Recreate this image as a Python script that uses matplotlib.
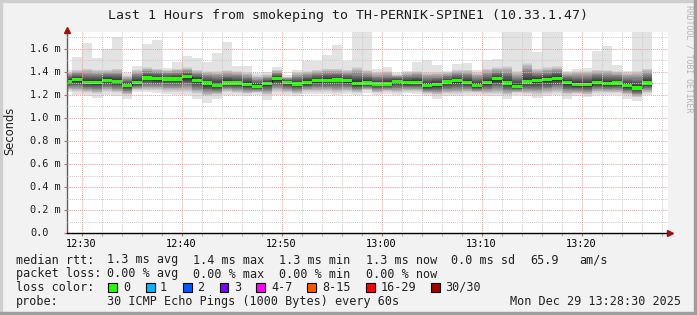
import numpy as np
import matplotlib
matplotlib.use('Agg')
import matplotlib.pyplot as plt
from matplotlib.patches import Rectangle
from matplotlib.lines import Line2D
from matplotlib.transforms import blended_transform_factory

W, H = 697, 315

# end of each 1 minute sample, in minutes after 12:30
fin = list(range(-1, 58))

# rtt in ms, per sample : max ping, 2nd highest, median, 2nd lowest, min ping
rtt_max = [1.42, 1.53, 1.65, 1.52, 1.60, 1.70, 1.39, 1.455, 1.64, 1.68,
           1.435, 1.487, 1.536, 1.522, 1.487, 1.565, 1.66, 1.449, 1.449, 1.391,
           1.40, 1.441, 1.377, 1.42, 1.50, 1.50, 1.545, 1.632, 1.50, 1.80,
           1.80, 1.429, 1.441, 1.391, 1.411, 1.487, 1.50, 1.458, 1.411, 1.47,
           1.478, 1.415, 1.50, 1.513, 1.80, 1.80, 1.80, 1.574, 1.80, 1.80,
           1.41, 1.426, 1.435, 1.585, 1.629, 1.464, 1.411, 1.80, 1.80]
rtt_hi = [1.40, 1.42, 1.43, 1.42, 1.42, 1.43, 1.37, 1.42, 1.44, 1.43,
          1.42, 1.43, 1.44, 1.42, 1.41, 1.41, 1.42, 1.41, 1.40, 1.37,
          1.38, 1.42, 1.36, 1.40, 1.41, 1.42, 1.43, 1.43, 1.42, 1.44,
          1.42, 1.40, 1.41, 1.38, 1.40, 1.41, 1.40, 1.40, 1.40, 1.42,
          1.42, 1.40, 1.43, 1.44, 1.45, 1.41, 1.48, 1.43, 1.44, 1.45,
          1.40, 1.41, 1.41, 1.42, 1.42, 1.41, 1.40, 1.41, 1.43]
rtt_med = [1.32, 1.333, 1.31, 1.31, 1.328, 1.316, 1.284, 1.31, 1.348, 1.342,
           1.339, 1.339, 1.357, 1.328, 1.304, 1.284, 1.304, 1.304, 1.29, 1.275,
           1.302, 1.342, 1.31, 1.296, 1.31, 1.325, 1.328, 1.33, 1.325, 1.30,
           1.304, 1.296, 1.296, 1.319, 1.31, 1.31, 1.281, 1.29, 1.313, 1.325,
           1.31, 1.281, 1.31, 1.342, 1.304, 1.275, 1.313, 1.325, 1.333, 1.342,
           1.31, 1.29, 1.29, 1.31, 1.30, 1.304, 1.281, 1.261, 1.304]
rtt_lo = [1.24, 1.23, 1.22, 1.21, 1.23, 1.22, 1.20, 1.24, 1.24, 1.24,
          1.23, 1.23, 1.23, 1.21, 1.19, 1.20, 1.23, 1.22, 1.21, 1.22,
          1.20, 1.23, 1.22, 1.21, 1.23, 1.23, 1.23, 1.22, 1.23, 1.22,
          1.24, 1.22, 1.23, 1.22, 1.23, 1.23, 1.21, 1.20, 1.21, 1.21,
          1.22, 1.22, 1.21, 1.21, 1.20, 1.22, 1.21, 1.20, 1.21, 1.22,
          1.20, 1.21, 1.20, 1.22, 1.22, 1.22, 1.20, 1.18, 1.22]
rtt_min = [1.23, 1.20, 1.194, 1.174, 1.20, 1.188, 1.165, 1.23, 1.23, 1.22,
           1.211, 1.20, 1.20, 1.168, 1.13, 1.168, 1.20, 1.20, 1.188, 1.20,
           1.16, 1.20, 1.20, 1.19, 1.205, 1.205, 1.205, 1.20, 1.21, 1.20,
           1.22, 1.20, 1.205, 1.20, 1.215, 1.21, 1.188, 1.168, 1.188, 1.188,
           1.20, 1.20, 1.188, 1.188, 1.168, 1.20, 1.188, 1.175, 1.188, 1.20,
           1.168, 1.188, 1.18, 1.20, 1.20, 1.20, 1.168, 1.15, 1.20]

yticks = [0.0, 0.2, 0.4, 0.6, 0.8, 1.0, 1.2, 1.4, 1.6]
ylabels = ['0.0', '0.2 m', '0.4 m', '0.6 m', '0.8 m', '1.0 m', '1.2 m', '1.4 m', '1.6 m']
xticks = [0, 10, 20, 30, 40, 50]
xlabels = ['12:30', '12:40', '12:50', '13:00', '13:10', '13:20']

title = 'Last 1 Hours from smokeping to TH-PERNIK-SPINE1 (10.33.1.47)'
rtt_stats = ['1.3 ms avg', '1.4 ms max', '1.3 ms min', '1.3 ms now', '0.0 ms sd', '65.9', 'am/s']
loss_stats = ['0.00 % avg', '0.00 % max', '0.00 % min', '0.00 % now']
loss_names = ['0', '1', '2', '3', '4-7', '8-15', '16-29', '30/30']
loss_colors = ['#26ff00', '#00b8ff', '#0059ff', '#7e00ff', '#ff00ff', '#ff5500', '#ff0000', '#a10000']
probe = '30 ICMP Echo Pings (1000 Bytes) every 60s'
stamp = 'Mon Dec 29 13:28:30 2025'

MONO = 'DejaVu Sans Mono'


def fx(px):
    return px / W


def fy(py):
    return 1 - py / H


fig = plt.figure(figsize=(W / 100, H / 100), dpi=100, facecolor='#f2f2f2')

# 3d frame like rrdtool
fig.patches.append(Rectangle((0, 0), fx(2), 1, transform=fig.transFigure, color='#cfcfcf', zorder=0))
fig.patches.append(Rectangle((0, fy(2)), 1, 2 / H, transform=fig.transFigure, color='#cfcfcf', zorder=0))
fig.patches.append(Rectangle((fx(694), 0), fx(3), 1, transform=fig.transFigure, color='#9e9e9e', zorder=0))
fig.patches.append(Rectangle((0, 0), 1, 3 / H, transform=fig.transFigure, color='#9e9e9e', zorder=0))

x0, x1 = -1.5, 58.6
y0, y1 = 0.0, 1.75
left_px, bot_px = 66.5, 233
ax = fig.add_axes([fx(left_px), fy(bot_px), (x1 - x0) * 10 / W, y1 * 115 / H])
ax.set_facecolor('white')
ax.set_xlim(x0, x1)
ax.set_ylim(y0, y1)

ends = np.array(fin, dtype=float)
mx = np.array(rtt_max)
hi = np.array(rtt_hi)
me = np.array(rtt_med)
lo = np.array(rtt_lo)
mn = np.array(rtt_min)

# smoke, 15 layers from outer (light) to inner (dark)
for i in range(1, 16):
    g = int(190 / 15 * (15 - i)) + 50
    col = '#%02x%02x%02x' % (g, g, g)
    if i == 1:
        up, dn = mx, mn
    else:
        f = ((16 - i) / 14) ** 0.85
        up = me + (hi - me) * f
        dn = me - (me - lo) * f
    ax.bar(ends - 0.5, up - dn, bottom=dn, width=1.0, color=col, linewidth=0, zorder=1)

# median line + loss coloured band
edges = np.append(ends - 1, ends[-1])
ax.stairs(me, edges, baseline=None, color='#202020', linewidth=1.0, zorder=1.5)
ax.bar(ends - 0.5, 0.027, bottom=me - 0.0135, width=1.0, color=loss_colors[0], linewidth=0, zorder=1.6)

# grid on top, dotted
dots = (0, (1, 1))
for v in np.arange(0.1, 1.75, 0.2):
    ax.axhline(v, color='#cccccc', lw=0.75, ls=dots, zorder=3)
for v in yticks[1:]:
    ax.axhline(v, color='#e6a4a4', lw=0.75, ls=dots, zorder=3)
for v in range(2, 59, 2):
    if v % 10:
        ax.axvline(v, color='#cccccc', lw=0.75, ls=dots, zorder=3)
for v in xticks:
    ax.axvline(v, color='#e6a4a4', lw=0.75, ls=dots, zorder=3)

for s in ['top', 'right']:
    ax.spines[s].set_visible(False)
ax.spines['left'].set_color('#606060')
ax.spines['bottom'].set_color('black')
ax.spines['left'].set_linewidth(1.0)
ax.spines['bottom'].set_linewidth(1.0)

ax.set_xticks(xticks)
ax.set_xticklabels(xlabels, fontfamily=MONO, fontsize=7.4)
ax.set_xticks([v for v in range(2, 59, 2) if v % 10], minor=True)
ax.tick_params(axis='x', which='both', length=2, width=0.8, color='#b07070', pad=2.2)
ax.tick_params(axis='x', which='minor', color='#b0b0b0')
ax.set_yticks(yticks)
ax.tick_params(axis='y', which='both', length=2, width=0.8, color='#b07070', labelleft=False)

tr = blended_transform_factory(fig.transFigure, ax.transData)
for v, lab in zip(yticks, ylabels):
    ax.text(fx(30), v, lab, transform=tr, ha='left', va='center',
            fontfamily=MONO, fontsize=7.4, color='#202020')

# axis arrows
fig.add_artist(Line2D([fx(left_px)] * 2, [fy(bot_px - y1 * 115), fy(29)], color='#606060', lw=1.0))
fig.add_artist(Line2D([fx(left_px)], [fy(29.5)], marker='^', markersize=4.5, color='#a01010', mec='#a01010'))
fig.add_artist(Line2D([fx(left_px + (x1 - x0) * 10), fx(669)], [fy(bot_px)] * 2, color='black', lw=1.0))
fig.add_artist(Line2D([fx(670)], [fy(bot_px)], marker='>', markersize=4.5, color='#a01010', mec='#a01010'))

fig.text(fx(348.5), fy(18.5), title, ha='center', va='baseline', fontfamily=MONO, fontsize=9.5, color='#202020')
fig.text(fx(10), fy(131), 'Seconds', rotation=90, ha='center', va='center', fontfamily='DejaVu Sans',
         fontsize=8.3, color='#202020')
fig.text(fx(688.5), fy(5), 'RRDTOOL / TOBI OETIKER', rotation=-90, ha='center', va='top',
         fontfamily=MONO, fontsize=5.9, color='#b4b4b4')

FS = 8.5
TC = '#202020'
# legend, line by line
fig.text(fx(16), fy(263.5), 'median rtt:', fontfamily=MONO, fontsize=FS, color=TC, va='baseline')
for s, px in zip(rtt_stats, [107, 193.5, 279, 366, 451, 530, 579]):
    fig.text(fx(px), fy(263.5), s, fontfamily=MONO, fontsize=FS, color=TC, va='baseline')

fig.text(fx(16), fy(277.5), 'packet loss:', fontfamily=MONO, fontsize=FS, color=TC, va='baseline')
for s, px in zip(loss_stats, [107, 193.5, 279, 366]):
    fig.text(fx(px), fy(277.5), s, fontfamily=MONO, fontsize=FS, color=TC, va='baseline')

fig.text(fx(16), fy(291), 'loss color:', fontfamily=MONO, fontsize=FS, color=TC, va='baseline')
box_px = [108, 146, 183, 219.5, 256, 307, 366, 431]
lab_px = [123, 160, 197, 234, 271, 322, 381, 445]
for name, col, bx, lx in zip(loss_names, loss_colors, box_px, lab_px):
    fig.patches.append(Rectangle((fx(bx), fy(291.5)), 8.5 / W, 9 / H, transform=fig.transFigure,
                                 facecolor=col, edgecolor='black', linewidth=0.8))
    fig.text(fx(lx), fy(291), name, fontfamily=MONO, fontsize=FS, color=TC, va='baseline')

fig.text(fx(16), fy(305), 'probe:', fontfamily=MONO, fontsize=FS, color=TC, va='baseline')
fig.text(fx(107), fy(305), probe, fontfamily=MONO, fontsize=FS, color=TC, va='baseline')
fig.text(fx(681), fy(305), stamp, fontfamily=MONO, fontsize=FS, color=TC, va='baseline', ha='right')

fig.savefig('out.png', dpi=100, facecolor=fig.get_facecolor())
